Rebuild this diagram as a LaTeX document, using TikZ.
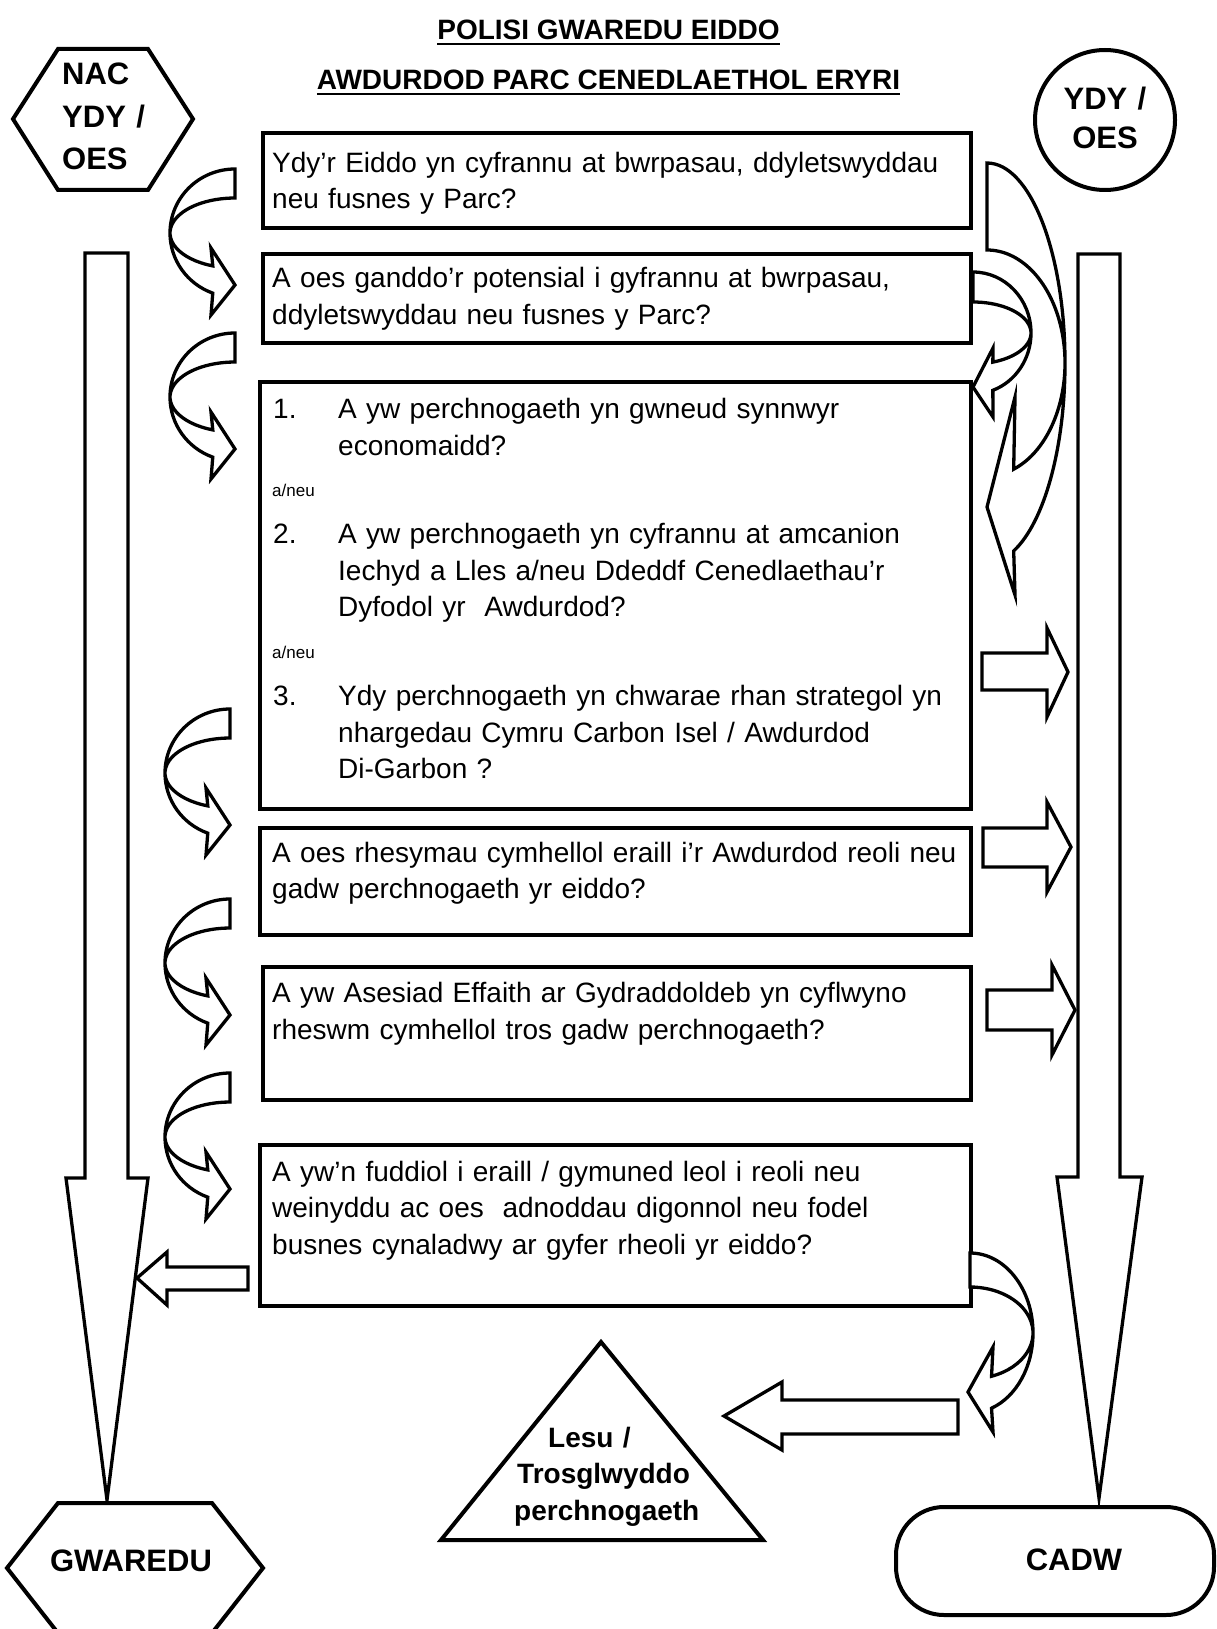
\documentclass[tikz,border=0pt]{standalone}
\usepackage{fontspec}
\setmainfont{Liberation Sans}
\newcommand{\ulin}[1]{\setbox0=\hbox{#1}\rlap{\rule[-5.5pt]{\wd0}{2.4pt}}\box0}
\newcommand{\curvR}[2]{%
  \draw[bandarrow] ({#1},{#2-64}) arc[start angle=90,end angle=250,x radius=65pt,y radius=64pt]
    -- ({#1-24},{#2+82}) -- ({#1},{#2+52}) -- ({#1-24},{#2+15}) -- ({#1-22.2},{#2+32.9})
    arc[start angle=250,end angle=90,x radius=65pt,y radius=35pt] -- cycle;}
\begin{document}
\begin{tikzpicture}[x=1pt,y=-1pt,
  qbox/.style={draw, line width=4pt, rectangle, inner sep=0pt, outer sep=0pt, anchor=north west},
  qtext/.style={anchor=base west, inner sep=0pt, text width=#1, align=left, font=\fontsize{28}{36.5}\selectfont},
  qtext/.default=700pt,
  smalltext/.style={anchor=base west, inner sep=0pt, font=\fontsize{17}{20}\selectfont},
  lbl/.style={inner sep=0pt, font=\bfseries\fontsize{31}{42.5}\selectfont},
  tlbl/.style={inner sep=0pt, font=\bfseries\fontsize{28}{36.5}\selectfont},
  outline/.style={draw, line width=4pt, line join=miter, fill=white},
  bandarrow/.style={draw, line width=3.3pt, line join=miter, fill=white},
]
\path[use as bounding box, clip] (0,0) rectangle (1217,1629);
\fill[white] (0,0) rectangle (1217,1629);

% title
\node[tlbl, anchor=base] (title1) at (608.5,39.5) {\ulin{POLISI GWAREDU EIDDO}};
\node[tlbl, anchor=base] (title2) at (608.5,90) {\ulin{AWDURDOD PARC CENEDLAETHOL ERYRI}};

% big vertical arrows
\draw[bandarrow] (85,253) -- (128,253) -- (128,1178) -- (148,1178) -- (107,1500) -- (66,1178) -- (85,1178) -- cycle;
\draw[bandarrow] (1078,254) -- (1120,254) -- (1120,1177) -- (1142,1177) -- (1099,1498) -- (1057,1177) -- (1078,1177) -- cycle;

% NAC YDY / OES hexagon
\draw[outline] (58,49) -- (148,49) -- (193,119) -- (148,190) -- (58,190) -- (13,119) -- cycle;
\node[lbl, anchor=base west, text width=140pt, align=left] (nac) at (62,85) {NAC\\YDY /\\OES};

% YDY / OES circle
\draw[outline] (1105,120) circle[radius=70pt];
\node[lbl, anchor=base, text width=120pt, align=center] (ydy) at (1105,110) {YDY /\\[-3.5pt]OES};

% question boxes
\node[qbox, minimum width=708pt, minimum height=95pt] (q1) at (263,133) {};
\node[qbox, minimum width=708pt, minimum height=89pt] (q2) at (263,254) {};
\node[qbox, minimum width=711pt, minimum height=427pt] (q3) at (260,382) {};
\node[qbox, minimum width=711pt, minimum height=107pt] (q4) at (260,828) {};
\node[qbox, minimum width=708pt, minimum height=133pt] (q5) at (263,967) {};
\node[qbox, minimum width=711pt, minimum height=161pt] (q6) at (260,1145) {};

\node[qtext] (t1) at (272,172.5) {Ydy’r Eiddo yn cyfrannu at bwrpasau, ddyletswyddau\\neu fusnes y Parc?};
\node[qtext] (t2) at (272,287.5) {A oes ganddo’r potensial i gyfrannu at bwrpasau,\\ddyletswyddau neu fusnes y Parc?};

\node[qtext=40pt] (n1) at (273,418.5) {1.};
\node[qtext=630pt] (i1) at (338,418.5) {A yw perchnogaeth yn gwneud synnwyr\\economaidd?};
\node[smalltext] (o1) at (272,496) {a/neu};
\node[qtext=40pt] (n2) at (273,543.5) {2.};
\node[qtext=630pt] (i2) at (338,543.5) {A yw perchnogaeth yn cyfrannu at amcanion\\Iechyd a Lles a/neu Ddeddf Cenedlaethau’r\\Dyfodol yr\ \ Awdurdod?};
\node[smalltext] (o2) at (272,658.5) {a/neu};
\node[qtext=40pt] (n3) at (273,705.5) {3.};
\node[qtext=630pt] (i3) at (338,705.5) {Ydy perchnogaeth yn chwarae rhan strategol yn\\nhargedau Cymru Carbon Isel / Awdurdod\\Di-Garbon ?};

\node[qtext] (t4) at (272,862) {A oes rhesymau cymhellol eraill i’r Awdurdod reoli neu\\gadw perchnogaeth yr eiddo?};
\node[qtext] (t5) at (272,1002.5) {A yw Asesiad Effaith ar Gydraddoldeb yn cyflwyno\\rheswm cymhellol tros gadw perchnogaeth?};
\node[qtext] (t6) at (272,1181) {A yw’n fuddiol i eraill / gymuned leol i reoli neu\\weinyddu ac oes\ \ adnoddau digonnol neu fodel\\busnes cynaladwy ar gyfer rheoli yr eiddo?};

% left curved arrows
\curvR{235}{233}
\curvR{235}{397}
\curvR{230}{773}
\curvR{230}{963}
\curvR{230}{1137}

% right curved arrows
\draw[bandarrow] (987,163) arc[start angle=90,end angle=-70,x radius=78pt,y radius=200pt]
  -- (1015,595) -- (987,507) -- (1015,397) -- ({987+78*cos(70)},{363+113*sin(70)})
  arc[start angle=-70,end angle=90,x radius=78pt,y radius=113pt] -- cycle;
\draw[bandarrow] (973,272) arc[start angle=90,end angle=-70,x radius=58pt,y radius=61pt]
  -- (993,417) -- (973,387) -- (993,348) -- ({973+58*cos(70)},{333+31*sin(70)})
  arc[start angle=-70,end angle=90,x radius=58pt,y radius=31pt] -- cycle;
\draw[bandarrow] (970,1253) arc[start angle=90,end angle=-70,x radius=63pt,y radius=80pt]
  -- (993,1432) -- (968,1392) -- (993,1347) -- ({970+63*cos(70)},{1333+46*sin(70)})
  arc[start angle=-70,end angle=90,x radius=63pt,y radius=46pt] -- cycle;

% straight block arrows
\draw[bandarrow] (982,653) -- (1047,653) -- (1047,628) -- (1068,672) -- (1047,717) -- (1047,690) -- (982,690) -- cycle;
\draw[bandarrow] (983,828) -- (1047,828) -- (1047,802) -- (1071,847) -- (1047,892) -- (1047,867) -- (983,867) -- cycle;
\draw[bandarrow] (987,990) -- (1052,990) -- (1052,965) -- (1075,1010) -- (1052,1055) -- (1052,1030) -- (987,1030) -- cycle;
\draw[bandarrow] (248,1267) -- (167,1267) -- (167,1252) -- (137,1278) -- (167,1305) -- (167,1290) -- (248,1290) -- cycle;
\draw[bandarrow] (958,1400) -- (782,1400) -- (782,1382) -- (724,1416) -- (782,1450) -- (782,1434) -- (958,1434) -- cycle;

% triangle
\draw[outline] (601,1342) -- (763,1540) -- (441,1540) -- cycle;
\node[tlbl, anchor=base west, text width=200pt, align=left] (lesu) at (514,1447) {\hspace*{34pt}Lesu /\\\hspace*{3pt}Trosglwyddo\\perchnogaeth};

% GWAREDU hexagon
\draw[outline] (58,1503) -- (212,1503) -- (263,1568) -- (212,1633) -- (58,1633) -- (7,1568) -- cycle;
\node[lbl, anchor=base] (gwaredu) at (131,1571) {GWAREDU};

% CADW
\draw[outline, rounded corners=48pt] (896,1507) rectangle (1214,1615);
\node[lbl, anchor=base] (cadw) at (1074,1570) {CADW};
\end{tikzpicture}
\end{document}
